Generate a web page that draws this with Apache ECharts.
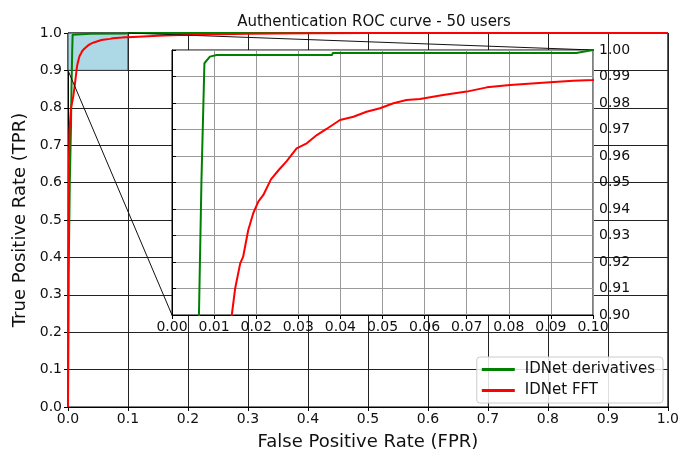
<!DOCTYPE html>
<html>
<head>
<meta charset="utf-8">
<script src="https://cdn.jsdelivr.net/npm/echarts@6/dist/echarts.min.js"></script>
<style>
  html, body { margin: 0; padding: 0; background: #fff; }
  #chart { width: 682px; height: 456px; }
</style>
</head>
<body>
<div id="chart"></div>
<script>
// IDNet derivatives (green)
var derivFpr = [0, 0.001, 0.003, 0.005, 0.0058, 0.0064, 0.0070, 0.0077, 0.0080, 0.0090, 0.0106, 0.0380, 0.0382, 0.0960, 0.1, 1]
var derivTpr = [0, 0.35, 0.6, 0.75, 0.85, 0.9, 0.951, 0.995, 0.9957, 0.9975, 0.9981, 0.9981, 0.9989, 0.9989, 1.0, 1.0]
// IDNet FFT (red)
var fftFpr = [0, 0.0003, 0.0008, 0.0015, 0.0025, 0.005, 0.0088, 0.012, 0.0142, 0.0150, 0.0162, 0.0169, 0.0181, 0.0193, 0.0205, 0.0217, 0.0235,
  0.0255, 0.0272, 0.0296, 0.0320, 0.0344, 0.0367, 0.0399, 0.0431, 0.0462, 0.0494, 0.0526, 0.0557, 0.0589, 0.0644, 0.0700, 0.0748,
  0.0803, 0.0898, 0.0953, 0.1, 0.15, 0.2, 0.3, 0.4, 0.5, 1]
var fftTpr = [0, 0.2, 0.45, 0.65, 0.74, 0.8, 0.83, 0.87, 0.9, 0.910, 0.9195, 0.922, 0.932, 0.9384, 0.9428, 0.9453, 0.9512,
  0.955, 0.958, 0.9629, 0.9648, 0.9679, 0.9702, 0.9736, 0.9748, 0.9767, 0.9780, 0.9799, 0.9811, 0.9815, 0.9830, 0.9843, 0.9859,
  0.9868, 0.9878, 0.9884, 0.9887, 0.9925, 0.995, 0.998, 0.9993, 1.0, 1.0]
// zoomed region [xmin, xmax, ymin, ymax]
var zoomBox = [0, 0.1, 0.9, 1.0]
var mainTicks = { min: 0, max: 1, interval: 0.1 }
var insetTicks = { step: 0.01 }

var seriesNames = ['IDNet derivatives', 'IDNet FFT']
var font = 'DejaVu Sans'

function pairs(xs, ys) {
  return xs.map(function (x, i) { return [x, ys[i]] })
}

var chart = echarts.init(document.getElementById('chart'))

function lineSeries(name, data, color, idx, z) {
  return {
    name: name,
    type: 'line',
    xAxisIndex: idx,
    yAxisIndex: idx,
    data: data,
    showSymbol: false,
    symbol: 'none',
    z: z,
    lineStyle: { color: color, width: 2 },
    itemStyle: { color: color }
  }
}

var derivData = pairs(derivFpr, derivTpr)
var fftData = pairs(fftFpr, fftTpr)

var labelStyle = { color: '#111', fontSize: 14, fontFamily: font }

var options = {
  animation: false,
  backgroundColor: '#fff',
  title: {
    text: 'Authentication ROC curve - 50 users',
    left: 369,
    textAlign: 'center',
    top: 10,
    textStyle: { fontSize: 15, fontWeight: 'normal', color: '#111', fontFamily: font }
  },
  legend: {
    data: seriesNames,
    orient: 'vertical',
    right: 19,
    bottom: 53,
    icon: 'rect',
    itemWidth: 33,
    itemHeight: 3,
    itemGap: 6,
    padding: [5, 8, 5, 5],
    backgroundColor: 'rgba(255,255,255,0.85)',
    borderColor: '#ccc',
    borderWidth: 1,
    borderRadius: 3,
    z: 20,
    textStyle: { fontSize: 15, color: '#111', fontFamily: font, padding: [0, 0, 0, 5] }
  },
  grid: [
    { left: 68, right: 12, top: 33, bottom: 45, show: true, borderColor: '#000', borderWidth: 1, z: 0 },
    { left: 172, right: 89, top: 50, bottom: 141, show: true, backgroundColor: '#fff', borderColor: '#000', borderWidth: 1, z: 6 }
  ],
  xAxis: [
    {
      type: 'value', gridIndex: 0, min: mainTicks.min, max: mainTicks.max, interval: mainTicks.interval,
      name: 'False Positive Rate (FPR)', nameLocation: 'middle', nameGap: 26,
      nameTextStyle: { fontSize: 18, color: '#111', fontFamily: font },
      axisLine: { lineStyle: { color: '#000' } },
      axisTick: { length: 4, lineStyle: { color: '#000' } },
      axisLabel: Object.assign({ margin: 5, formatter: function (v) { return v.toFixed(1) } }, labelStyle),
      splitLine: { lineStyle: { color: '#222', width: 1 } }
    },
    {
      type: 'value', gridIndex: 1, min: zoomBox[0], max: zoomBox[1], interval: insetTicks.step, z: 7,
      axisLine: { lineStyle: { color: '#000' } },
      axisTick: { length: 4, lineStyle: { color: '#000' } },
      axisLabel: Object.assign({ margin: 5, formatter: function (v) { return v.toFixed(2) } }, labelStyle),
      splitLine: { lineStyle: { color: '#999', width: 1 } }
    }
  ],
  yAxis: [
    {
      type: 'value', gridIndex: 0, min: mainTicks.min, max: mainTicks.max, interval: mainTicks.interval,
      name: 'True Positive Rate (TPR)', nameLocation: 'middle', nameGap: 38,
      nameTextStyle: { fontSize: 18, color: '#111', fontFamily: font },
      axisLine: { show: true, lineStyle: { color: '#000' } },
      axisTick: { show: true, length: 4, lineStyle: { color: '#000' } },
      axisLabel: Object.assign({ margin: 6, formatter: function (v) { return v.toFixed(1) } }, labelStyle),
      splitLine: { lineStyle: { color: '#222', width: 1 } }
    },
    {
      type: 'value', gridIndex: 1, position: 'right', min: zoomBox[2], max: zoomBox[3], interval: insetTicks.step, z: 7,
      axisLine: { show: true, lineStyle: { color: '#000' } },
      axisTick: { show: true, length: 4, lineStyle: { color: '#000' } },
      axisLabel: Object.assign({ margin: 6, formatter: function (v) { return v.toFixed(2) } }, labelStyle),
      splitLine: { lineStyle: { color: '#999', width: 1 } }
    }
  ],
  series: [
    {
      type: 'line', xAxisIndex: 0, yAxisIndex: 0, data: [], z: 1, silent: true,
      markArea: {
        silent: true,
        itemStyle: { color: '#add8e6', borderColor: '#333', borderWidth: 1 },
        data: [[{ coord: [zoomBox[0], zoomBox[2]] }, { coord: [zoomBox[1], zoomBox[3]] }]]
      }
    },
    lineSeries(seriesNames[0], derivData, '#008000', 0, 3),
    lineSeries(seriesNames[1], fftData, '#ff0000', 0, 3),
    lineSeries(seriesNames[0], derivData, '#008000', 1, 8),
    lineSeries(seriesNames[1], fftData, '#ff0000', 1, 8)
  ]
}
chart.setOption(options)

// connector lines from the zoom box to the inset corners
var a1 = chart.convertToPixel({ gridIndex: 0 }, [zoomBox[0], zoomBox[2]])
var b1 = chart.convertToPixel({ gridIndex: 1 }, [zoomBox[0], zoomBox[2]])
var a2 = chart.convertToPixel({ gridIndex: 0 }, [zoomBox[1], zoomBox[3]])
var b2 = chart.convertToPixel({ gridIndex: 1 }, [zoomBox[1], zoomBox[3]])
chart.setOption({
  graphic: [
    { type: 'line', z: 5, shape: { x1: a1[0], y1: a1[1], x2: b1[0], y2: b1[1] }, style: { stroke: '#111', lineWidth: 1 } },
    { type: 'line', z: 5, shape: { x1: a2[0], y1: a2[1], x2: b2[0], y2: b2[1] }, style: { stroke: '#111', lineWidth: 1 } }
  ]
})
</script>
</body>
</html>
